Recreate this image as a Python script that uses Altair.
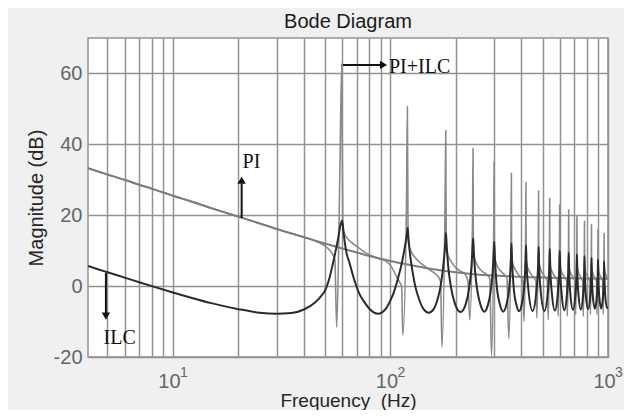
import altair as alt
import pandas as pd

# ---------------- data ----------------
pi_freq = [4.07, 5, 6, 7, 8, 10, 12, 15, 20, 25, 30, 40, 50, 60, 70, 80, 100,
           120, 150, 200, 250, 300, 400, 500, 600, 800, 1000]
pi_db = [33.3, 31.5, 30.0, 28.6, 27.5, 25.5, 24.0, 22.0, 19.6, 17.7, 16.1, 13.8,
         12.0, 10.6, 9.5, 8.5, 7.1, 6.1, 5.0, 3.9, 3.3, 3.0, 2.6, 2.4, 2.3, 2.15, 2.1]

ilc_freq = [
    4.07, 5, 6, 7, 8, 10, 12, 15, 20, 25, 30, 35, 40, 45, 48, 50, 52, 54, 56, 57.5, 58.8, 60,
    61, 62.5, 65, 68, 72, 76, 80, 87.5, 95, 100, 103, 107, 110, 112.6, 115, 117.5, 119.2, 120,
    121, 123, 126, 130, 135, 142, 150, 158, 165, 170, 174, 177, 179, 180,
    181.5, 184, 190, 198, 210, 222, 230, 236, 238.5, 240,
    241.5, 245, 252, 260, 270, 280, 288, 295, 298.5, 300,
    302, 307, 318, 330, 342, 353, 358, 360,
    362, 368, 380, 390, 400, 412, 418, 420,
    422, 429, 450, 471, 478, 480,
    482, 489, 510, 531, 538, 540,
    543, 552, 570, 588, 597, 600,
    603, 612, 630, 648, 657, 660,
    663, 672, 690, 708, 717, 720,
    723, 732, 750, 768, 777, 780,
    783, 792, 810, 828, 837, 840,
    843, 852, 870, 888, 897, 900,
    903, 912, 930, 948, 957, 960,
    963, 972, 990, 1000]
ilc_db = [
    5.7, 3.9, 2.4, 1.1, 0.0, -1.8, -3.2, -4.8, -6.5, -7.5, -7.8, -7.6, -6.6, -4.6, -2.8, -1.3, 1.5, 5.5, 10, 13.5, 17, 18.5,
    14.5, 10, 6.3, 2, -2.2, -4.6, -6.4, -7.8, -6.5, -4, -2.2, 1.0, 3.8, 6.3, 9.2, 12.5, 15, 16.5,
    13.5, 9, 4.5, 0, -3.5, -6.5, -7.5, -6.5, -3.5, 0, 4.5, 9, 12.5, 15,
    11, 6, -0.5, -5, -7.3, -5, -0.5, 6, 11, 13.5,
    10, 4, -2, -5.5, -7.2, -5.5, -2, 4, 10, 12.5,
    8, 1, -5, -7.2, -5, 1, 8, 12,
    7.5, 0, -5.5, -7.1, -5.5, 0, 7.5, 11.5,
    7, 0, -7, 0, 7, 11,
    6.5, -0.5, -7, -0.5, 6.5, 10.5,
    5, -2, -6.9, -2, 5, 10,
    4.5, -2, -6.8, -2, 4.5, 9.5,
    4, -2.5, -6.7, -2.5, 4, 9,
    3.5, -2.5, -6.6, -2.5, 3.5, 8.5,
    3, -3, -6.5, -3, 3, 8,
    3, -3, -6.4, -3, 3, 7.5,
    2.5, -3, -6.3, -3, 2.5, 7,
    2.5, -3, -6.2, -5.8]

pic_freq = [
    4.07, 5, 7, 10, 15, 20, 25, 30, 35, 40, 44, 48, 51, 53.5, 55.5, 56.6, 58.5, 59.7,
    60.4, 61.5, 63, 66, 70, 76, 83, 90, 96, 101, 106, 110, 112.5, 114, 118.5, 119.6,
    120.5, 122, 125, 130, 137, 145, 152, 160, 166, 170, 172.5, 178.5, 179.6,
    180.5, 182, 186, 192, 200, 210, 220, 227, 231.5, 238.5, 239.6,
    240.5, 243, 248, 256, 266, 278, 286, 291.5, 298.5, 299.6,
    300.5, 304, 312, 322, 334, 343, 350, 358.5, 359.6,
    360.5, 364, 372, 390, 406, 411, 418.5, 419.6,
    420.5, 424, 432, 450, 466, 471, 478.5, 479.6,
    480.5, 484, 492, 510, 526, 531, 538.5, 539.6,
    540.5, 544, 552, 570, 586, 590, 598.5, 599.6,
    600.5, 604, 612, 630, 646, 650, 658.5, 659.6,
    660.5, 664, 672, 690, 706, 710, 718.5, 719.6,
    720.5, 724, 732, 750, 766, 770, 778.5, 779.6,
    780.5, 784, 792, 810, 826, 830, 838.5, 839.6,
    840.5, 844, 852, 870, 886, 890, 898.5, 899.6,
    900.5, 904, 912, 930, 946, 950, 958.5, 959.6,
    960.5, 964, 972, 990, 1000]
pic_db = [
    33.3, 31.5, 28.6, 25.5, 22.0, 19.6, 17.7, 16.1, 14.9, 13.8, 13.0, 12.0, 10.9, 9.5, 7.5, -11.6, 31, 62.7,
    16.5, 14.8, 13.6, 12.4, 11.2, 9.6, 8.4, 7.6, 6.9, 5.5, 3.0, 1.2, 0.0, -13.8, 24, 50.6,
    13, 11.2, 9.5, 8, 6.6, 5.4, 4.5, 3.6, 2.6, 1.2, -17.2, 28, 43.9,
    11, 9.5, 8, 6.5, 5.2, 4.2, 3.4, 1.5, -9.5, 20, 38.8,
    9.5, 8, 6.5, 5, 4, 3.2, 2.2, -19.6, 19, 35.0,
    8.5, 7, 5.3, 4.2, 3.2, 2.2, -14.9, 17, 31.8,
    8, 6.5, 5, 3.0, 1.5, -10, 16, 29.2,
    7.5, 6, 4.5, 2.8, 1.5, -9, 15, 26.8,
    7.5, 6, 4.5, 2.8, 1.5, -9.5, 14, 24.8,
    7, 5.5, 4.2, 2.7, 1.4, -8.5, 13, 22.9,
    7, 5.5, 4, 2.6, 1.3, -8.5, 12, 21.5,
    6.5, 5, 3.8, 2.6, 1.3, -8, 11, 19.7,
    6.5, 5, 3.8, 2.5, 1.2, -8.5, 10, 18.3,
    6, 4.8, 3.6, 2.5, 1.2, -8, 10, 17.4,
    6, 4.8, 3.6, 2.4, 1.2, -8, 9, 16.0,
    5.5, 4.5, 3.5, 2.4, 1.2, -8, 9, 14.9,
    5.5, 4.5, 3.5, 2.4, 2.2]

grid_freq = [5, 6, 7, 8, 9, 10, 20, 30, 40, 50, 60, 70, 80, 90,
             100, 200, 300, 400, 500, 600, 700, 800, 900, 1000]
y_ticks = [-20, 0, 20, 40, 60]

exp_freq = [10, 100, 1000]
exp_db = [-20, -20, -20]
exp_text = ["1", "2", "3"]

ann_text = ["PI", "ILC", "PI+ILC"]
ann_freq = [20.9, 4.8, 98.4]
ann_db = [33.2, -16.2, 60.0]

shaft_freq = [20.7, 4.92, 60.5]
shaft_freq2 = [20.7, 4.92, 91.0]
shaft_db = [19.2, 3.7, 62.4]
shaft_db2 = [29.0, -7.6, 62.4]

head_freq = [20.7, 4.92, 92.9]
head_db = [29.9, -8.5, 62.4]
head_shape = ["triangle-up", "triangle-down", "triangle-right"]

# ---------------- frames ----------------
pi_df = pd.DataFrame({"f": pi_freq, "db": pi_db})
ilc_df = pd.DataFrame({"f": ilc_freq, "db": ilc_db})
pic_df = pd.DataFrame({"f": pic_freq, "db": pic_db})
exp_df = pd.DataFrame({"f": exp_freq, "db": exp_db, "t": exp_text})
ann_df = pd.DataFrame({"f": ann_freq, "db": ann_db, "t": ann_text})
shaft_df = pd.DataFrame({"f": shaft_freq, "f2": shaft_freq2, "db": shaft_db, "db2": shaft_db2})
head_df = pd.DataFrame({"f": head_freq, "db": head_db, "s": head_shape})

SANS = "Liberation Sans"
SERIF = "Liberation Serif"

x_scale = alt.Scale(type="log", domain=[4.07, 1000], nice=False)
y_scale = alt.Scale(domain=[-20, 70], nice=False, zero=False)

x_axis = alt.Axis(
    values=grid_freq,
    labelExpr="(datum.value == 10 || datum.value == 100 || datum.value == 1000) ? '10' : ''",
    grid=True, gridColor="#929292", gridWidth=1.5,
    ticks=False, domain=False,
    labelFont=SANS, labelFontSize=20, labelColor="#666666",
    labelPadding=14, labelOffset=-4, labelFlush=False, labelOverlap=False,
    title="Frequency\u00a0 (Hz)", titleFont=SANS, titleFontSize=19,
    titleFontWeight="normal", titleColor="#262626",
    titleY=49.5, titleBaseline="alphabetic",
)
y_axis = alt.Axis(
    values=y_ticks,
    labelExpr="datum.value < 0 ? '-' + (-datum.value) : '' + datum.value",
    grid=True, gridColor="#929292", gridWidth=1.5,
    ticks=False, domain=False,
    labelFont=SANS, labelFontSize=20, labelColor="#666666", labelPadding=6,
    title="Magnitude (dB)", titleFont=SANS, titleFontSize=20,
    titleFontWeight="normal", titleColor="#262626", titlePadding=7,
)

X = alt.X("f:Q", scale=x_scale, axis=x_axis)
Y = alt.Y("db:Q", scale=y_scale, axis=y_axis)

pic_line = alt.Chart(pic_df).mark_line(
    color="#8a8a8a", strokeWidth=1.6, interpolate="monotone", clip=True
).encode(x=X, y=Y, order="f:Q")

pi_line = alt.Chart(pi_df).mark_line(
    color="#7d7d7d", strokeWidth=2, interpolate="monotone", clip=True
).encode(x=X, y=Y)

ilc_line = alt.Chart(ilc_df).mark_line(
    color="#2b2b2b", strokeWidth=2, interpolate="monotone", clip=True
).encode(x=X, y=Y, order="f:Q")

exps = alt.Chart(exp_df).mark_text(
    align="left", baseline="alphabetic", dx=7, dy=20,
    font=SANS, fontSize=14, color="#666666"
).encode(x=X, y=Y, text="t:N")

anns = alt.Chart(ann_df).mark_text(
    align="left", baseline="alphabetic", font=SERIF, fontSize=20, color="#111111"
).encode(x=X, y=Y, text="t:N")

shafts = alt.Chart(shaft_df).mark_rule(color="#111111", strokeWidth=2).encode(
    x=X, x2="f2:Q", y=Y, y2="db2:Q"
)

heads = alt.Chart(head_df).mark_point(
    filled=True, color="#111111", opacity=1, size=70
).encode(x=X, y=Y, shape=alt.Shape("s:N", scale=None))

chart = alt.layer(pic_line, pi_line, ilc_line, shafts, heads, anns, exps).properties(
    width=520,
    height=319,
    autosize=alt.AutoSizeParams(type="none"),
    padding={"left": 80, "top": 30, "right": 16, "bottom": 53},
    background="#f0f0f0",
    title=alt.TitleParams(
        "Bode Diagram", font=SANS, fontSize=20, fontWeight="normal",
        color="#1a1a1a", offset=6, anchor="middle"
    ),
).configure_view(stroke="#929292", strokeWidth=1.5, fill="white")

chart.save("out.html", embed_options={"renderer": "svg", "actions": False})
